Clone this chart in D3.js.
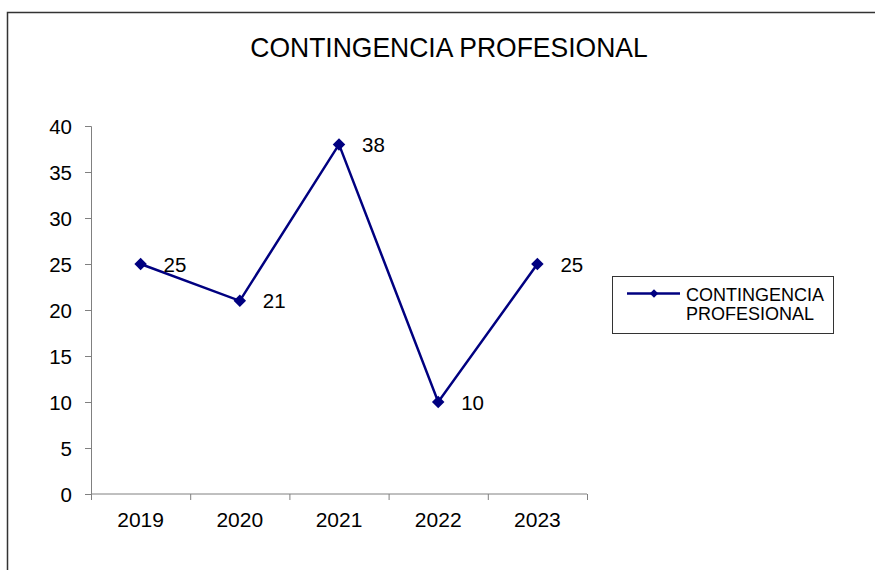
<!DOCTYPE html>
<html>
<head>
<meta charset="utf-8">
<script src="https://cdn.jsdelivr.net/npm/d3@7"></script>
<style>
  body { margin: 0; background: #fff; }
  svg text { font-family: "Liberation Sans", Arial, sans-serif; fill: #000; }
</style>
</head>
<body>
<svg width="875" height="570"></svg>
<script>
var years = ["2019", "2020", "2021", "2022", "2023"],
    values = [25, 21, 38, 10, 25],
    yTicks = [0, 5, 10, 15, 20, 25, 30, 35, 40],
    seriesName = "CONTINGENCIA PROFESIONAL",
    legendLines = ["CONTINGENCIA", "PROFESIONAL"];

var svg = d3.select("svg"),
    margin = {top: 126, left: 91, right: 288, bottom: 76},
    width = +svg.attr("width") - margin.left - margin.right,
    height = +svg.attr("height") - margin.top - margin.bottom;

var navy = "#000080";

// outer chart border (runs off the right and bottom of the picture)
svg.append("rect")
    .attr("x", 7.5).attr("y", 12.5)
    .attr("width", 900).attr("height", 600)
    .attr("fill", "none")
    .attr("stroke", "#333")
    .attr("stroke-width", 1.5);

svg.append("text")
    .attr("transform", "translate(449,57)scale(1,1.06)")
    .attr("text-anchor", "middle")
    .style("font-size", "26.5px")
    .text(seriesName);

var x = d3.scaleBand().domain(years).range([0, width]),
    y = d3.scaleLinear().domain([0, 40]).range([height, 0]);

var g = svg.append("g")
    .attr("transform", "translate(" + margin.left + "," + margin.top + ")");

var yAxis = g.append("g")
    .call(d3.axisLeft(y).tickValues(yTicks).tickSize(6).tickPadding(13).tickFormat(d3.format("d")));
yAxis.select(".domain").attr("stroke", "#808080");
yAxis.selectAll(".tick line").attr("stroke", "#808080");
yAxis.selectAll("text").style("font-size", "20.5px").attr("dy", "0.37em");

var xAxis = g.append("g")
    .attr("transform", "translate(0," + height + ")")
    .call(d3.axisBottom(x).tickSize(0).tickPadding(18));
xAxis.select(".domain").attr("stroke", "#808080").attr("d", "M0.5,0H" + width);
xAxis.selectAll("text").style("font-size", "21px");

// category boundary ticks
g.append("g").selectAll("line")
    .data(years.concat([null]))
    .enter().append("line")
    .attr("x1", function(d) { return (d ? x(d) : width) + 0.5; })
    .attr("x2", function(d) { return (d ? x(d) : width) + 0.5; })
    .attr("y1", height).attr("y2", height + 6)
    .attr("stroke", "#808080");

var cx = function(d, i) { return x(years[i]) + x.bandwidth() / 2; };

var line = d3.line()
    .x(function(d, i) { return cx(d, i); })
    .y(function(d) { return y(d); });

g.append("path")
    .datum(values)
    .attr("fill", "none")
    .attr("stroke", navy)
    .attr("stroke-width", 2.5)
    .attr("d", line);

g.selectAll(".pt")
    .data(values)
    .enter().append("path")
    .attr("class", "pt")
    .attr("transform", function(d, i) { return "translate(" + cx(d, i) + "," + y(d) + ")rotate(45)"; })
    .attr("d", d3.symbol().type(d3.symbolSquare).size(78))
    .attr("fill", navy);

g.selectAll(".lbl")
    .data(values)
    .enter().append("text")
    .attr("class", "lbl")
    .attr("x", function(d, i) { return cx(d, i) + 23; })
    .attr("y", function(d) { return y(d) + 7.5; })
    .style("font-size", "20.5px")
    .text(function(d) { return d; });

// legend
var legend = svg.append("g").attr("transform", "translate(612,276)");
legend.append("rect")
    .attr("x", 0.5).attr("y", 0.5)
    .attr("width", 221).attr("height", 57)
    .attr("fill", "#fff")
    .attr("stroke", "#333");
legend.append("line")
    .attr("x1", 15).attr("x2", 68)
    .attr("y1", 17.5).attr("y2", 17.5)
    .attr("stroke", navy).attr("stroke-width", 2.5);
legend.append("path")
    .attr("transform", "translate(42,17.5)rotate(45)")
    .attr("d", d3.symbol().type(d3.symbolSquare).size(36))
    .attr("fill", navy);
legend.selectAll(".lg")
    .data(legendLines)
    .enter().append("text")
    .attr("class", "lg")
    .attr("x", 74)
    .attr("y", function(d, i) { return 25 + i * 19; })
    .style("font-size", "18px")
    .text(function(d) { return d; });
</script>
</body>
</html>
